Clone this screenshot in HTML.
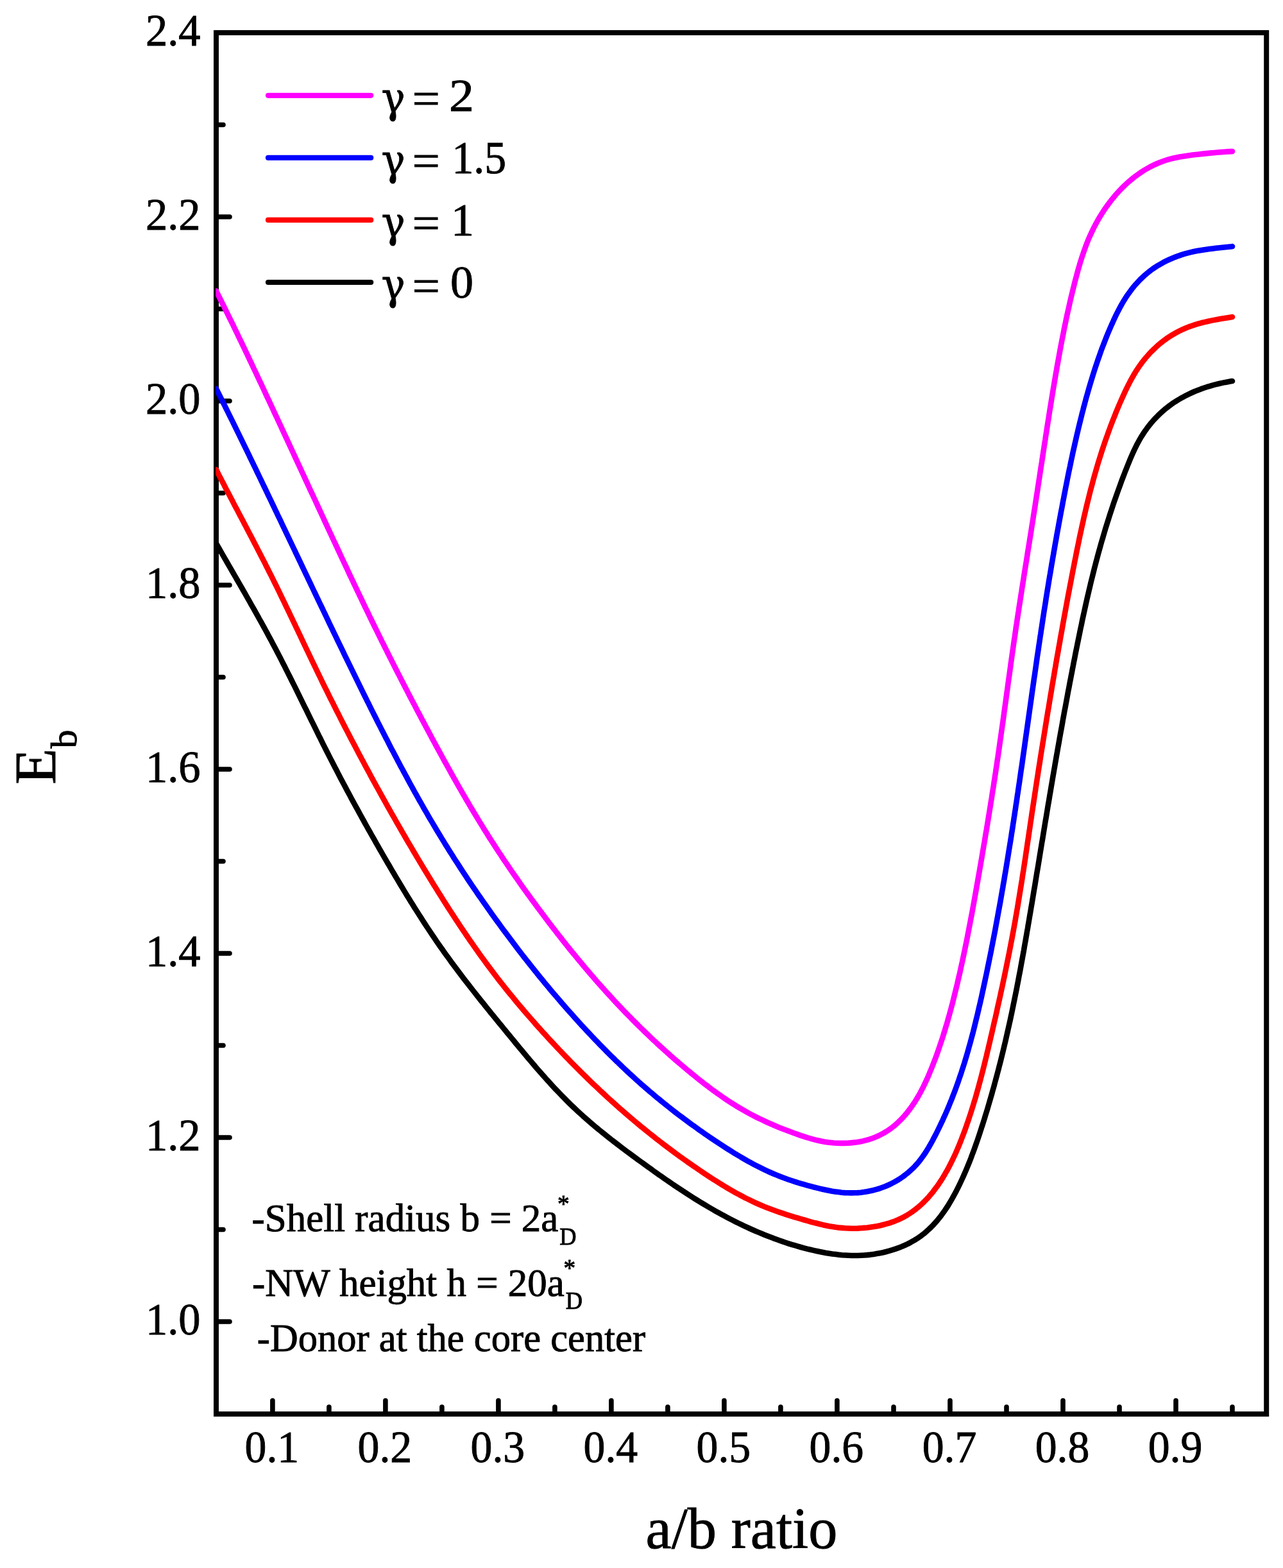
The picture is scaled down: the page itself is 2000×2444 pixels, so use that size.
<!DOCTYPE html>
<html lang="en"><head><meta charset="utf-8"><title>E_b versus a/b ratio</title>
<style>
html,body{margin:0;padding:0;background:#fff;}
body{width:2000px;height:2444px;overflow:hidden;}
svg{display:block;}
text{font-family:"Liberation Serif","DejaVu Serif",serif;fill:#000;}
.tk{font-size:69.5px;}
.lg{font-size:72px;}
.an{font-size:62px;}
.gm{font-family:"DejaVu Serif","Liberation Serif",serif;font-size:72px;}
.ax{font-size:92px;}
</style></head><body>
<svg width="2000" height="2444" viewBox="0 0 2000 2444">
<rect x="0" y="0" width="2000" height="2444" fill="#ffffff"/>

<g stroke="#000" stroke-width="7.6" stroke-linecap="round" fill="none">
<line x1="424.9" y1="2204.0" x2="424.9" y2="2183.0"/>
<line x1="600.9" y1="2204.0" x2="600.9" y2="2183.0"/>
<line x1="776.9" y1="2204.0" x2="776.9" y2="2183.0"/>
<line x1="952.9" y1="2204.0" x2="952.9" y2="2183.0"/>
<line x1="1128.9" y1="2204.0" x2="1128.9" y2="2183.0"/>
<line x1="1304.9" y1="2204.0" x2="1304.9" y2="2183.0"/>
<line x1="1481.0" y1="2204.0" x2="1481.0" y2="2183.0"/>
<line x1="1657.0" y1="2204.0" x2="1657.0" y2="2183.0"/>
<line x1="1833.0" y1="2204.0" x2="1833.0" y2="2183.0"/>
<line x1="512.9" y1="2204.0" x2="512.9" y2="2193.0"/>
<line x1="688.9" y1="2204.0" x2="688.9" y2="2193.0"/>
<line x1="864.9" y1="2204.0" x2="864.9" y2="2193.0"/>
<line x1="1040.9" y1="2204.0" x2="1040.9" y2="2193.0"/>
<line x1="1216.9" y1="2204.0" x2="1216.9" y2="2193.0"/>
<line x1="1393.0" y1="2204.0" x2="1393.0" y2="2193.0"/>
<line x1="1569.0" y1="2204.0" x2="1569.0" y2="2193.0"/>
<line x1="1745.0" y1="2204.0" x2="1745.0" y2="2193.0"/>
<line x1="1921.0" y1="2204.0" x2="1921.0" y2="2193.0"/>
<line x1="337.0" y1="2060.0" x2="358.0" y2="2060.0"/>
<line x1="337.0" y1="1916.5" x2="348.0" y2="1916.5"/>
<line x1="337.0" y1="1773.0" x2="358.0" y2="1773.0"/>
<line x1="337.0" y1="1629.5" x2="348.0" y2="1629.5"/>
<line x1="337.0" y1="1486.0" x2="358.0" y2="1486.0"/>
<line x1="337.0" y1="1342.5" x2="348.0" y2="1342.5"/>
<line x1="337.0" y1="1199.0" x2="358.0" y2="1199.0"/>
<line x1="337.0" y1="1055.5" x2="348.0" y2="1055.5"/>
<line x1="337.0" y1="912.0" x2="358.0" y2="912.0"/>
<line x1="337.0" y1="768.5" x2="348.0" y2="768.5"/>
<line x1="337.0" y1="625.0" x2="358.0" y2="625.0"/>
<line x1="337.0" y1="481.5" x2="348.0" y2="481.5"/>
<line x1="337.0" y1="338.0" x2="358.0" y2="338.0"/>
<line x1="337.0" y1="194.5" x2="348.0" y2="194.5"/>
</g>
<rect x="337.0" y="51.0" width="1637.2" height="2153.0" fill="none" stroke="#000" stroke-width="8.0" stroke-linejoin="miter"/>
<clipPath id="plotclip"><rect x="336.2" y="40" width="1640" height="2170"/></clipPath>
<g fill="none" stroke-width="8.6" stroke-linecap="round" stroke-linejoin="round" clip-path="url(#plotclip)">
<path stroke="#000000" d="M337.0,847.0 L339.5,851.4 L342.0,855.7 L344.5,860.1 L347.0,864.5 L349.5,868.8 L352.0,873.2 L354.5,877.5 L357.0,881.8 L359.5,886.2 L362.0,890.5 L364.5,894.9 L367.0,899.2 L369.5,903.5 L372.0,907.9 L374.5,912.2 L377.0,916.5 L379.5,920.9 L382.0,925.2 L384.4,929.5 L386.9,933.9 L389.4,938.2 L391.8,942.6 L394.3,946.9 L396.7,951.2 L399.2,955.6 L401.6,959.9 L404.0,964.3 L406.5,968.6 L408.9,973.0 L411.3,977.4 L413.7,981.8 L416.1,986.1 L418.4,990.5 L420.8,994.9 L423.2,999.3 L425.5,1003.7 L427.8,1008.1 L430.2,1012.5 L432.5,1016.9 L434.8,1021.4 L437.1,1025.8 L439.3,1030.2 L441.6,1034.7 L443.9,1039.1 L446.1,1043.6 L448.4,1048.1 L450.6,1052.5 L452.9,1057.0 L455.1,1061.5 L457.3,1065.9 L459.6,1070.4 L461.8,1074.9 L464.0,1079.4 L466.2,1083.9 L468.4,1088.3 L470.6,1092.8 L472.8,1097.3 L475.0,1101.8 L477.3,1106.3 L479.5,1110.8 L481.7,1115.3 L483.9,1119.8 L486.1,1124.3 L488.3,1128.7 L490.5,1133.2 L492.7,1137.7 L494.9,1142.2 L497.1,1146.7 L499.4,1151.1 L501.6,1155.6 L503.8,1160.1 L506.1,1164.6 L508.3,1169.0 L510.6,1173.5 L512.8,1177.9 L515.1,1182.4 L517.4,1186.8 L519.7,1191.3 L522.0,1195.7 L524.3,1200.1 L526.6,1204.6 L528.9,1209.0 L531.2,1213.4 L533.5,1217.8 L535.9,1222.2 L538.2,1226.6 L540.5,1231.0 L542.9,1235.4 L545.3,1239.8 L547.6,1244.2 L550.0,1248.6 L552.4,1253.0 L554.8,1257.4 L557.2,1261.7 L559.6,1266.1 L562.0,1270.5 L564.4,1274.9 L566.8,1279.2 L569.2,1283.6 L571.7,1288.0 L574.1,1292.3 L576.6,1296.7 L579.0,1301.0 L581.5,1305.4 L584.0,1309.7 L586.4,1314.1 L588.9,1318.4 L591.4,1322.8 L593.9,1327.1 L596.4,1331.5 L598.9,1335.8 L601.4,1340.1 L603.9,1344.5 L606.5,1348.8 L609.0,1353.1 L611.5,1357.5 L614.1,1361.8 L616.6,1366.1 L619.2,1370.4 L621.8,1374.7 L624.3,1379.0 L626.9,1383.3 L629.5,1387.6 L632.1,1391.9 L634.7,1396.2 L637.4,1400.5 L640.0,1404.8 L642.7,1409.0 L645.3,1413.3 L648.0,1417.5 L650.7,1421.8 L653.4,1426.0 L656.1,1430.2 L658.8,1434.5 L661.5,1438.7 L664.3,1442.9 L667.0,1447.0 L669.8,1451.2 L672.6,1455.4 L675.4,1459.5 L678.2,1463.7 L681.0,1467.8 L683.9,1471.9 L686.7,1476.0 L689.6,1480.1 L692.5,1484.2 L695.4,1488.2 L698.4,1492.3 L701.3,1496.3 L704.2,1500.4 L707.2,1504.4 L710.2,1508.4 L713.2,1512.4 L716.2,1516.4 L719.2,1520.3 L722.2,1524.3 L725.3,1528.3 L728.3,1532.2 L731.4,1536.2 L734.5,1540.1 L737.5,1544.0 L740.6,1547.9 L743.7,1551.9 L746.8,1555.8 L749.9,1559.7 L753.1,1563.6 L756.2,1567.5 L759.3,1571.4 L762.5,1575.3 L765.6,1579.2 L768.8,1583.0 L771.9,1586.9 L775.1,1590.8 L778.3,1594.7 L781.5,1598.6 L784.6,1602.4 L787.8,1606.3 L791.0,1610.2 L794.2,1614.1 L797.4,1617.9 L800.6,1621.8 L803.7,1625.7 L806.9,1629.6 L810.1,1633.4 L813.4,1637.3 L816.6,1641.2 L819.8,1645.0 L823.0,1648.9 L826.3,1652.7 L829.5,1656.5 L832.8,1660.4 L836.0,1664.2 L839.3,1668.0 L842.6,1671.7 L845.9,1675.5 L849.3,1679.2 L852.6,1683.0 L856.0,1686.7 L859.3,1690.4 L862.7,1694.1 L866.1,1697.7 L869.6,1701.3 L873.0,1704.9 L876.5,1708.5 L880.0,1712.1 L883.5,1715.6 L887.0,1719.1 L890.6,1722.6 L894.2,1726.0 L897.8,1729.4 L901.4,1732.8 L905.1,1736.1 L908.7,1739.4 L912.5,1742.7 L916.2,1746.0 L919.9,1749.2 L923.7,1752.5 L927.5,1755.7 L931.3,1758.8 L935.1,1762.0 L939.0,1765.1 L942.8,1768.2 L946.7,1771.3 L950.6,1774.4 L954.5,1777.5 L958.5,1780.5 L962.4,1783.5 L966.4,1786.6 L970.3,1789.6 L974.3,1792.6 L978.3,1795.6 L982.3,1798.5 L986.3,1801.5 L990.4,1804.5 L994.4,1807.4 L998.5,1810.4 L1002.5,1813.3 L1006.6,1816.3 L1010.7,1819.2 L1014.7,1822.1 L1018.8,1825.1 L1022.9,1828.0 L1027.0,1830.9 L1031.2,1833.8 L1035.3,1836.7 L1039.4,1839.5 L1043.6,1842.4 L1047.7,1845.2 L1051.9,1848.1 L1056.1,1850.9 L1060.3,1853.7 L1064.5,1856.4 L1068.7,1859.2 L1072.9,1861.9 L1077.2,1864.6 L1081.4,1867.3 L1085.7,1870.0 L1089.9,1872.6 L1094.2,1875.2 L1098.5,1877.8 L1102.8,1880.4 L1107.1,1882.9 L1111.4,1885.4 L1115.8,1887.9 L1120.1,1890.3 L1124.5,1892.7 L1128.9,1895.1 L1133.3,1897.5 L1137.7,1899.8 L1142.1,1902.0 L1146.6,1904.3 L1151.0,1906.5 L1155.5,1908.7 L1160.0,1910.8 L1164.5,1912.9 L1169.0,1915.0 L1173.5,1917.0 L1178.0,1919.0 L1182.6,1920.9 L1187.2,1922.8 L1191.8,1924.7 L1196.4,1926.5 L1201.1,1928.3 L1205.7,1930.1 L1210.4,1931.8 L1215.1,1933.5 L1219.8,1935.1 L1224.5,1936.7 L1229.3,1938.3 L1234.1,1939.8 L1238.9,1941.2 L1243.7,1942.6 L1248.5,1944.0 L1253.4,1945.3 L1258.2,1946.6 L1263.1,1947.8 L1268.0,1948.9 L1272.9,1950.0 L1277.8,1951.0 L1282.8,1952.0 L1287.7,1952.9 L1292.7,1953.7 L1297.6,1954.5 L1302.6,1955.1 L1307.6,1955.7 L1312.5,1956.2 L1317.5,1956.5 L1322.4,1956.8 L1327.4,1957.0 L1332.3,1957.0 L1337.2,1957.0 L1342.1,1956.8 L1347.1,1956.5 L1352.0,1956.1 L1356.9,1955.6 L1361.8,1954.9 L1366.7,1954.1 L1371.6,1953.2 L1376.6,1952.2 L1381.5,1951.0 L1386.4,1949.7 L1391.3,1948.2 L1396.1,1946.6 L1400.9,1944.9 L1405.7,1943.0 L1410.4,1941.0 L1415.0,1938.9 L1419.4,1936.6 L1423.8,1934.1 L1428.1,1931.5 L1432.2,1928.8 L1436.3,1925.9 L1440.2,1922.9 L1443.9,1919.7 L1447.6,1916.4 L1451.2,1913.0 L1454.6,1909.5 L1457.9,1905.9 L1461.2,1902.1 L1464.3,1898.3 L1467.4,1894.3 L1470.3,1890.3 L1473.2,1886.2 L1476.0,1882.0 L1478.7,1877.8 L1481.3,1873.4 L1483.8,1869.1 L1486.3,1864.6 L1488.7,1860.2 L1491.1,1855.7 L1493.4,1851.1 L1495.6,1846.6 L1497.8,1842.0 L1499.9,1837.5 L1502.0,1832.9 L1504.0,1828.3 L1506.0,1823.7 L1507.9,1819.1 L1509.8,1814.5 L1511.7,1809.8 L1513.5,1805.2 L1515.2,1800.5 L1517.0,1795.9 L1518.7,1791.2 L1520.4,1786.5 L1522.0,1781.8 L1523.7,1777.1 L1525.3,1772.4 L1526.9,1767.7 L1528.4,1763.0 L1529.9,1758.2 L1531.5,1753.5 L1533.0,1748.7 L1534.5,1744.0 L1535.9,1739.2 L1537.4,1734.5 L1538.9,1729.7 L1540.3,1724.9 L1541.7,1720.1 L1543.1,1715.3 L1544.5,1710.5 L1545.9,1705.7 L1547.2,1700.9 L1548.6,1696.1 L1549.9,1691.3 L1551.2,1686.5 L1552.5,1681.6 L1553.8,1676.8 L1555.1,1672.0 L1556.4,1667.1 L1557.6,1662.3 L1558.9,1657.4 L1560.1,1652.6 L1561.3,1647.7 L1562.5,1642.9 L1563.7,1638.0 L1564.9,1633.1 L1566.0,1628.3 L1567.2,1623.4 L1568.3,1618.5 L1569.4,1613.6 L1570.5,1608.7 L1571.6,1603.9 L1572.7,1599.0 L1573.8,1594.1 L1574.9,1589.2 L1575.9,1584.3 L1577.0,1579.4 L1578.0,1574.5 L1579.0,1569.6 L1580.0,1564.7 L1581.0,1559.8 L1582.0,1554.9 L1583.0,1550.0 L1584.0,1545.1 L1585.0,1540.2 L1585.9,1535.3 L1586.9,1530.3 L1587.8,1525.4 L1588.7,1520.5 L1589.7,1515.6 L1590.6,1510.7 L1591.5,1505.8 L1592.4,1500.8 L1593.3,1495.9 L1594.2,1491.0 L1595.1,1486.1 L1596.0,1481.2 L1596.8,1476.2 L1597.7,1471.3 L1598.6,1466.4 L1599.4,1461.5 L1600.3,1456.5 L1601.1,1451.6 L1602.0,1446.7 L1602.8,1441.7 L1603.7,1436.8 L1604.5,1431.9 L1605.3,1427.0 L1606.2,1422.0 L1607.0,1417.1 L1607.8,1412.2 L1608.7,1407.2 L1609.5,1402.3 L1610.3,1397.4 L1611.1,1392.5 L1611.9,1387.5 L1612.8,1382.6 L1613.6,1377.7 L1614.4,1372.8 L1615.2,1367.8 L1616.0,1362.9 L1616.8,1358.0 L1617.7,1353.0 L1618.5,1348.1 L1619.3,1343.2 L1620.1,1338.3 L1620.9,1333.3 L1621.7,1328.4 L1622.5,1323.5 L1623.3,1318.6 L1624.1,1313.6 L1625.0,1308.7 L1625.8,1303.8 L1626.6,1298.8 L1627.4,1293.9 L1628.2,1289.0 L1629.0,1284.1 L1629.8,1279.1 L1630.7,1274.2 L1631.5,1269.3 L1632.3,1264.4 L1633.1,1259.4 L1633.9,1254.5 L1634.8,1249.6 L1635.6,1244.7 L1636.4,1239.7 L1637.3,1234.8 L1638.1,1229.9 L1638.9,1225.0 L1639.8,1220.0 L1640.6,1215.1 L1641.4,1210.2 L1642.3,1205.3 L1643.1,1200.4 L1644.0,1195.4 L1644.8,1190.5 L1645.7,1185.6 L1646.5,1180.7 L1647.4,1175.7 L1648.3,1170.8 L1649.1,1165.9 L1650.0,1161.0 L1650.9,1156.1 L1651.7,1151.1 L1652.6,1146.2 L1653.5,1141.3 L1654.4,1136.4 L1655.3,1131.5 L1656.2,1126.5 L1657.0,1121.6 L1657.9,1116.7 L1658.8,1111.8 L1659.7,1106.8 L1660.7,1101.9 L1661.6,1097.0 L1662.5,1092.1 L1663.4,1087.2 L1664.3,1082.2 L1665.2,1077.3 L1666.2,1072.4 L1667.1,1067.5 L1668.0,1062.6 L1669.0,1057.6 L1669.9,1052.7 L1670.9,1047.8 L1671.8,1042.9 L1672.8,1038.0 L1673.7,1033.0 L1674.7,1028.1 L1675.7,1023.2 L1676.6,1018.3 L1677.6,1013.4 L1678.6,1008.5 L1679.6,1003.5 L1680.6,998.6 L1681.6,993.7 L1682.6,988.8 L1683.6,983.9 L1684.6,979.0 L1685.7,974.1 L1686.7,969.2 L1687.7,964.2 L1688.8,959.3 L1689.9,954.4 L1690.9,949.6 L1692.0,944.7 L1693.1,939.8 L1694.2,934.9 L1695.3,930.0 L1696.5,925.1 L1697.6,920.2 L1698.8,915.4 L1699.9,910.5 L1701.1,905.6 L1702.3,900.8 L1703.5,895.9 L1704.7,891.1 L1705.9,886.2 L1707.2,881.4 L1708.4,876.6 L1709.7,871.8 L1711.0,866.9 L1712.3,862.1 L1713.6,857.3 L1715.0,852.5 L1716.3,847.7 L1717.7,842.9 L1719.1,838.2 L1720.5,833.4 L1721.9,828.6 L1723.3,823.8 L1724.8,819.1 L1726.3,814.3 L1727.8,809.6 L1729.3,804.8 L1730.8,800.1 L1732.4,795.4 L1733.9,790.7 L1735.5,785.9 L1737.1,781.2 L1738.8,776.5 L1740.4,771.8 L1742.1,767.1 L1743.8,762.4 L1745.5,757.7 L1747.2,753.0 L1748.9,748.3 L1750.7,743.6 L1752.5,739.0 L1754.3,734.3 L1756.2,729.6 L1758.0,725.0 L1759.9,720.3 L1761.8,715.7 L1763.8,711.0 L1765.8,706.5 L1767.9,701.9 L1770.1,697.4 L1772.3,692.9 L1774.7,688.5 L1777.1,684.1 L1779.7,679.8 L1782.4,675.6 L1785.2,671.4 L1788.1,667.4 L1791.2,663.4 L1794.3,659.5 L1797.6,655.7 L1801.0,652.0 L1804.5,648.4 L1808.1,644.9 L1811.8,641.5 L1815.6,638.2 L1819.5,635.1 L1823.5,632.0 L1827.6,629.1 L1831.7,626.3 L1836.0,623.6 L1840.3,621.1 L1844.7,618.7 L1849.1,616.3 L1853.6,614.1 L1858.1,612.0 L1862.6,610.0 L1867.2,608.2 L1871.9,606.4 L1876.5,604.8 L1881.2,603.2 L1885.9,601.8 L1890.7,600.4 L1895.5,599.2 L1900.3,598.0 L1905.2,596.9 L1910.1,595.9 L1915.1,595.0 L1920.1,594.1 L1921.0,594.0"/>
<path stroke="#ff0000" d="M337.0,732.0 L339.3,736.4 L341.5,740.8 L343.8,745.3 L346.1,749.7 L348.4,754.1 L350.6,758.5 L352.9,763.0 L355.3,767.4 L357.6,771.8 L359.9,776.2 L362.2,780.6 L364.5,785.1 L366.8,789.5 L369.2,793.9 L371.5,798.4 L373.8,802.8 L376.2,807.2 L378.5,811.6 L380.8,816.1 L383.2,820.5 L385.5,824.9 L387.8,829.4 L390.1,833.8 L392.5,838.3 L394.8,842.7 L397.1,847.2 L399.4,851.6 L401.7,856.1 L404.0,860.5 L406.3,865.0 L408.6,869.4 L410.9,873.9 L413.2,878.3 L415.4,882.8 L417.7,887.3 L419.9,891.8 L422.2,896.2 L424.4,900.7 L426.6,905.2 L428.9,909.7 L431.1,914.2 L433.3,918.7 L435.5,923.2 L437.6,927.6 L439.8,932.1 L442.0,936.6 L444.2,941.1 L446.3,945.7 L448.5,950.2 L450.7,954.7 L452.8,959.2 L455.0,963.7 L457.1,968.2 L459.3,972.7 L461.4,977.2 L463.6,981.7 L465.7,986.2 L467.9,990.7 L470.0,995.3 L472.1,999.8 L474.3,1004.3 L476.4,1008.8 L478.6,1013.3 L480.7,1017.8 L482.9,1022.3 L485.0,1026.8 L487.2,1031.3 L489.4,1035.8 L491.5,1040.3 L493.7,1044.8 L495.9,1049.3 L498.1,1053.8 L500.2,1058.3 L502.4,1062.8 L504.6,1067.3 L506.8,1071.8 L509.1,1076.3 L511.3,1080.8 L513.5,1085.3 L515.7,1089.8 L518.0,1094.2 L520.2,1098.7 L522.5,1103.2 L524.7,1107.7 L527.0,1112.1 L529.3,1116.6 L531.5,1121.1 L533.8,1125.5 L536.1,1130.0 L538.4,1134.4 L540.7,1138.9 L543.0,1143.3 L545.3,1147.8 L547.6,1152.2 L550.0,1156.7 L552.3,1161.1 L554.6,1165.5 L557.0,1170.0 L559.3,1174.4 L561.6,1178.8 L564.0,1183.2 L566.4,1187.6 L568.7,1192.1 L571.1,1196.5 L573.5,1200.9 L575.9,1205.3 L578.2,1209.7 L580.6,1214.1 L583.0,1218.5 L585.4,1222.8 L587.8,1227.2 L590.3,1231.6 L592.7,1236.0 L595.1,1240.4 L597.5,1244.7 L600.0,1249.1 L602.4,1253.5 L604.8,1257.8 L607.3,1262.2 L609.7,1266.5 L612.2,1270.9 L614.7,1275.2 L617.1,1279.5 L619.6,1283.9 L622.1,1288.2 L624.6,1292.5 L627.1,1296.9 L629.6,1301.2 L632.1,1305.5 L634.6,1309.8 L637.1,1314.1 L639.7,1318.4 L642.2,1322.7 L644.7,1327.0 L647.3,1331.3 L649.8,1335.6 L652.4,1339.9 L655.0,1344.2 L657.5,1348.4 L660.1,1352.7 L662.7,1357.0 L665.3,1361.3 L667.9,1365.5 L670.5,1369.8 L673.1,1374.0 L675.7,1378.3 L678.4,1382.5 L681.0,1386.8 L683.6,1391.0 L686.3,1395.2 L689.0,1399.5 L691.6,1403.7 L694.3,1407.9 L697.0,1412.1 L699.7,1416.3 L702.4,1420.5 L705.1,1424.7 L707.9,1428.9 L710.6,1433.1 L713.3,1437.2 L716.1,1441.4 L718.9,1445.6 L721.7,1449.7 L724.5,1453.8 L727.3,1458.0 L730.1,1462.1 L732.9,1466.2 L735.8,1470.3 L738.6,1474.4 L741.5,1478.5 L744.4,1482.6 L747.3,1486.7 L750.2,1490.7 L753.2,1494.8 L756.1,1498.8 L759.1,1502.8 L762.1,1506.9 L765.1,1510.9 L768.1,1514.9 L771.1,1518.8 L774.2,1522.8 L777.2,1526.8 L780.3,1530.7 L783.4,1534.6 L786.5,1538.6 L789.6,1542.5 L792.8,1546.4 L795.9,1550.3 L799.1,1554.1 L802.3,1558.0 L805.5,1561.9 L808.7,1565.7 L811.9,1569.5 L815.2,1573.4 L818.4,1577.2 L821.7,1581.0 L825.0,1584.8 L828.3,1588.5 L831.6,1592.3 L834.9,1596.1 L838.2,1599.8 L841.6,1603.5 L844.9,1607.3 L848.3,1611.0 L851.7,1614.7 L855.0,1618.4 L858.4,1622.0 L861.9,1625.7 L865.3,1629.4 L868.7,1633.0 L872.1,1636.6 L875.6,1640.3 L879.1,1643.9 L882.5,1647.5 L886.0,1651.1 L889.5,1654.7 L893.0,1658.2 L896.5,1661.8 L900.0,1665.3 L903.6,1668.9 L907.1,1672.4 L910.7,1675.9 L914.3,1679.4 L917.8,1682.9 L921.4,1686.3 L925.0,1689.8 L928.6,1693.2 L932.3,1696.7 L935.9,1700.1 L939.6,1703.5 L943.2,1706.9 L946.9,1710.3 L950.6,1713.6 L954.3,1717.0 L958.0,1720.3 L961.7,1723.7 L965.4,1727.0 L969.2,1730.3 L973.0,1733.5 L976.7,1736.8 L980.5,1740.1 L984.3,1743.3 L988.1,1746.5 L992.0,1749.7 L995.8,1752.9 L999.6,1756.1 L1003.5,1759.2 L1007.4,1762.4 L1011.3,1765.5 L1015.2,1768.6 L1019.1,1771.7 L1023.0,1774.8 L1027.0,1777.9 L1030.9,1780.9 L1034.9,1784.0 L1038.9,1787.0 L1042.9,1790.0 L1046.9,1793.0 L1050.9,1796.0 L1054.9,1798.9 L1058.9,1801.9 L1063.0,1804.8 L1067.1,1807.7 L1071.1,1810.6 L1075.2,1813.4 L1079.3,1816.3 L1083.5,1819.1 L1087.6,1822.0 L1091.7,1824.8 L1095.9,1827.6 L1100.0,1830.3 L1104.2,1833.1 L1108.4,1835.8 L1112.6,1838.6 L1116.8,1841.2 L1121.1,1843.9 L1125.3,1846.5 L1129.6,1849.1 L1133.9,1851.7 L1138.2,1854.2 L1142.6,1856.7 L1146.9,1859.2 L1151.3,1861.6 L1155.7,1863.9 L1160.1,1866.3 L1164.6,1868.5 L1169.1,1870.7 L1173.6,1872.9 L1178.1,1875.0 L1182.7,1877.0 L1187.3,1879.0 L1191.9,1880.9 L1196.6,1882.7 L1201.2,1884.5 L1206.0,1886.3 L1210.7,1888.0 L1215.4,1889.6 L1220.2,1891.2 L1225.0,1892.8 L1229.8,1894.3 L1234.6,1895.8 L1239.4,1897.3 L1244.2,1898.7 L1249.0,1900.1 L1253.8,1901.5 L1258.7,1902.9 L1263.5,1904.3 L1268.3,1905.6 L1273.2,1906.8 L1278.0,1908.0 L1282.8,1909.2 L1287.7,1910.2 L1292.6,1911.2 L1297.5,1912.0 L1302.4,1912.8 L1307.3,1913.4 L1312.2,1913.9 L1317.1,1914.3 L1322.1,1914.5 L1327.1,1914.7 L1332.0,1914.7 L1337.0,1914.6 L1342.0,1914.3 L1347.0,1913.9 L1351.9,1913.5 L1356.9,1912.8 L1361.9,1912.1 L1366.9,1911.2 L1371.8,1910.2 L1376.7,1909.0 L1381.6,1907.7 L1386.4,1906.3 L1391.2,1904.7 L1395.9,1902.9 L1400.5,1901.0 L1405.0,1898.9 L1409.5,1896.6 L1413.8,1894.2 L1418.0,1891.5 L1422.1,1888.7 L1426.1,1885.8 L1430.0,1882.7 L1433.8,1879.4 L1437.5,1876.1 L1441.1,1872.6 L1444.6,1869.0 L1448.0,1865.3 L1451.2,1861.5 L1454.4,1857.7 L1457.4,1853.7 L1460.4,1849.7 L1463.2,1845.7 L1466.0,1841.5 L1468.7,1837.3 L1471.3,1833.1 L1473.8,1828.7 L1476.3,1824.4 L1478.7,1820.0 L1481.0,1815.5 L1483.2,1811.1 L1485.4,1806.6 L1487.6,1802.0 L1489.7,1797.5 L1491.7,1792.9 L1493.7,1788.3 L1495.6,1783.6 L1497.5,1779.0 L1499.3,1774.3 L1501.1,1769.6 L1502.9,1764.9 L1504.6,1760.2 L1506.3,1755.5 L1507.9,1750.7 L1509.6,1746.0 L1511.1,1741.3 L1512.7,1736.5 L1514.2,1731.8 L1515.7,1727.0 L1517.2,1722.2 L1518.6,1717.4 L1520.1,1712.7 L1521.5,1707.9 L1522.8,1703.1 L1524.2,1698.3 L1525.5,1693.5 L1526.8,1688.7 L1528.1,1683.8 L1529.4,1679.0 L1530.6,1674.2 L1531.9,1669.4 L1533.1,1664.5 L1534.3,1659.7 L1535.5,1654.9 L1536.7,1650.0 L1537.9,1645.2 L1539.0,1640.3 L1540.2,1635.5 L1541.3,1630.6 L1542.5,1625.7 L1543.6,1620.9 L1544.7,1616.0 L1545.9,1611.1 L1547.0,1606.3 L1548.1,1601.4 L1549.2,1596.5 L1550.3,1591.6 L1551.5,1586.8 L1552.6,1581.9 L1553.7,1577.0 L1554.7,1572.1 L1555.8,1567.2 L1556.9,1562.4 L1558.0,1557.5 L1559.1,1552.6 L1560.1,1547.7 L1561.2,1542.8 L1562.3,1537.9 L1563.3,1533.0 L1564.3,1528.1 L1565.4,1523.2 L1566.4,1518.3 L1567.4,1513.4 L1568.4,1508.5 L1569.4,1503.6 L1570.4,1498.7 L1571.4,1493.8 L1572.4,1488.9 L1573.4,1484.0 L1574.3,1479.1 L1575.3,1474.2 L1576.2,1469.3 L1577.2,1464.3 L1578.1,1459.4 L1579.0,1454.5 L1579.9,1449.6 L1580.8,1444.7 L1581.7,1439.8 L1582.6,1434.9 L1583.4,1429.9 L1584.3,1425.0 L1585.1,1420.1 L1586.0,1415.2 L1586.8,1410.3 L1587.6,1405.3 L1588.4,1400.4 L1589.2,1395.5 L1590.0,1390.6 L1590.8,1385.6 L1591.6,1380.7 L1592.4,1375.8 L1593.2,1370.9 L1593.9,1365.9 L1594.7,1361.0 L1595.5,1356.1 L1596.2,1351.1 L1597.0,1346.2 L1597.7,1341.3 L1598.5,1336.3 L1599.2,1331.4 L1599.9,1326.5 L1600.7,1321.5 L1601.4,1316.6 L1602.1,1311.6 L1602.9,1306.7 L1603.6,1301.8 L1604.3,1296.8 L1605.1,1291.9 L1605.8,1286.9 L1606.5,1282.0 L1607.3,1277.0 L1608.0,1272.1 L1608.7,1267.1 L1609.5,1262.2 L1610.2,1257.2 L1611.0,1252.3 L1611.7,1247.3 L1612.5,1242.4 L1613.2,1237.4 L1614.0,1232.4 L1614.7,1227.5 L1615.5,1222.5 L1616.2,1217.6 L1617.0,1212.6 L1617.8,1207.6 L1618.5,1202.7 L1619.3,1197.7 L1620.1,1192.8 L1620.9,1187.8 L1621.6,1182.8 L1622.4,1177.9 L1623.2,1172.9 L1624.0,1167.9 L1624.8,1163.0 L1625.6,1158.0 L1626.4,1153.1 L1627.2,1148.1 L1628.0,1143.1 L1628.8,1138.2 L1629.6,1133.2 L1630.4,1128.3 L1631.2,1123.3 L1632.0,1118.3 L1632.8,1113.4 L1633.6,1108.4 L1634.5,1103.5 L1635.3,1098.5 L1636.1,1093.6 L1636.9,1088.6 L1637.7,1083.7 L1638.6,1078.7 L1639.4,1073.8 L1640.2,1068.8 L1641.1,1063.9 L1641.9,1058.9 L1642.8,1054.0 L1643.6,1049.0 L1644.4,1044.1 L1645.3,1039.2 L1646.1,1034.2 L1647.0,1029.3 L1647.8,1024.4 L1648.7,1019.4 L1649.6,1014.5 L1650.4,1009.6 L1651.3,1004.7 L1652.2,999.7 L1653.0,994.8 L1653.9,989.9 L1654.8,985.0 L1655.7,980.1 L1656.5,975.2 L1657.4,970.2 L1658.3,965.3 L1659.2,960.4 L1660.1,955.5 L1661.0,950.6 L1661.9,945.7 L1662.8,940.8 L1663.7,935.9 L1664.6,931.0 L1665.5,926.1 L1666.5,921.2 L1667.4,916.3 L1668.3,911.4 L1669.3,906.5 L1670.2,901.6 L1671.1,896.8 L1672.1,891.9 L1673.0,887.0 L1674.0,882.1 L1674.9,877.2 L1675.9,872.4 L1676.9,867.5 L1677.8,862.6 L1678.8,857.7 L1679.8,852.9 L1680.8,848.0 L1681.8,843.1 L1682.8,838.2 L1683.8,833.4 L1684.9,828.5 L1685.9,823.7 L1687.0,818.8 L1688.1,813.9 L1689.1,809.1 L1690.2,804.2 L1691.4,799.4 L1692.5,794.5 L1693.6,789.7 L1694.8,784.9 L1696.0,780.0 L1697.2,775.2 L1698.4,770.3 L1699.6,765.5 L1700.9,760.7 L1702.2,755.9 L1703.5,751.0 L1704.8,746.2 L1706.1,741.4 L1707.5,736.6 L1708.9,731.7 L1710.3,726.9 L1711.7,722.1 L1713.2,717.3 L1714.7,712.5 L1716.2,707.7 L1717.7,702.9 L1719.3,698.1 L1720.9,693.4 L1722.5,688.6 L1724.2,683.8 L1725.9,679.1 L1727.6,674.3 L1729.3,669.6 L1731.0,664.9 L1732.8,660.2 L1734.6,655.5 L1736.5,650.8 L1738.4,646.1 L1740.2,641.4 L1742.2,636.8 L1744.1,632.2 L1746.1,627.6 L1748.1,623.0 L1750.2,618.4 L1752.2,613.9 L1754.3,609.4 L1756.5,604.9 L1758.7,600.4 L1761.0,596.0 L1763.3,591.6 L1765.7,587.3 L1768.2,583.0 L1770.8,578.7 L1773.5,574.6 L1776.3,570.4 L1779.2,566.4 L1782.3,562.4 L1785.4,558.5 L1788.7,554.7 L1792.1,550.9 L1795.5,547.3 L1799.1,543.8 L1802.8,540.4 L1806.5,537.0 L1810.4,533.9 L1814.3,530.8 L1818.3,527.9 L1822.4,525.1 L1826.6,522.5 L1830.9,520.0 L1835.2,517.6 L1839.6,515.3 L1844.1,513.2 L1848.7,511.3 L1853.3,509.4 L1858.1,507.7 L1862.8,506.1 L1867.7,504.7 L1872.6,503.3 L1877.5,502.1 L1882.5,501.0 L1887.4,499.9 L1892.4,498.9 L1897.4,498.0 L1902.3,497.1 L1907.2,496.3 L1912.1,495.5 L1916.8,494.7 L1921.0,494.0"/>
<path stroke="#0000ff" d="M337.0,605.8 L339.2,610.2 L341.5,614.7 L343.7,619.1 L345.9,623.6 L348.1,628.0 L350.4,632.5 L352.6,637.0 L354.8,641.4 L357.0,645.9 L359.2,650.4 L361.5,654.9 L363.7,659.3 L365.9,663.8 L368.1,668.3 L370.3,672.8 L372.5,677.3 L374.7,681.8 L376.9,686.3 L379.1,690.8 L381.3,695.3 L383.5,699.8 L385.7,704.3 L387.9,708.8 L390.0,713.4 L392.2,717.9 L394.4,722.4 L396.6,726.9 L398.8,731.4 L400.9,735.9 L403.1,740.4 L405.3,745.0 L407.5,749.5 L409.6,754.0 L411.8,758.5 L414.0,763.0 L416.2,767.6 L418.3,772.1 L420.5,776.6 L422.7,781.1 L424.8,785.6 L427.0,790.2 L429.1,794.7 L431.3,799.2 L433.4,803.7 L435.6,808.2 L437.8,812.7 L439.9,817.3 L442.1,821.8 L444.2,826.3 L446.4,830.8 L448.5,835.3 L450.7,839.8 L452.8,844.3 L455.0,848.8 L457.1,853.3 L459.3,857.8 L461.4,862.4 L463.6,866.9 L465.7,871.4 L467.9,875.9 L470.0,880.4 L472.1,884.9 L474.3,889.4 L476.4,893.9 L478.6,898.4 L480.7,902.9 L482.9,907.4 L485.0,911.9 L487.2,916.5 L489.3,921.0 L491.5,925.5 L493.6,930.0 L495.8,934.5 L497.9,939.0 L500.1,943.5 L502.3,948.0 L504.4,952.5 L506.6,957.0 L508.7,961.5 L510.9,966.0 L513.0,970.6 L515.2,975.1 L517.4,979.6 L519.5,984.1 L521.7,988.6 L523.9,993.1 L526.0,997.6 L528.2,1002.1 L530.4,1006.7 L532.6,1011.2 L534.8,1015.7 L536.9,1020.2 L539.1,1024.7 L541.3,1029.2 L543.5,1033.7 L545.7,1038.2 L547.9,1042.7 L550.1,1047.2 L552.3,1051.7 L554.5,1056.2 L556.7,1060.7 L558.9,1065.2 L561.1,1069.7 L563.3,1074.2 L565.5,1078.7 L567.8,1083.2 L570.0,1087.7 L572.2,1092.2 L574.5,1096.6 L576.7,1101.1 L578.9,1105.6 L581.2,1110.1 L583.4,1114.5 L585.7,1119.0 L587.9,1123.5 L590.2,1127.9 L592.5,1132.4 L594.7,1136.8 L597.0,1141.3 L599.3,1145.7 L601.6,1150.2 L603.9,1154.6 L606.1,1159.0 L608.4,1163.5 L610.7,1167.9 L613.1,1172.3 L615.4,1176.7 L617.7,1181.1 L620.0,1185.6 L622.4,1190.0 L624.7,1194.4 L627.1,1198.8 L629.4,1203.1 L631.8,1207.5 L634.2,1211.9 L636.5,1216.3 L638.9,1220.7 L641.3,1225.0 L643.7,1229.4 L646.1,1233.8 L648.6,1238.1 L651.0,1242.5 L653.4,1246.8 L655.9,1251.1 L658.4,1255.5 L660.8,1259.8 L663.3,1264.1 L665.8,1268.4 L668.3,1272.8 L670.8,1277.1 L673.4,1281.4 L675.9,1285.7 L678.5,1290.0 L681.0,1294.2 L683.6,1298.5 L686.2,1302.8 L688.8,1307.1 L691.4,1311.3 L694.0,1315.6 L696.7,1319.8 L699.3,1324.1 L702.0,1328.3 L704.7,1332.5 L707.3,1336.8 L710.0,1341.0 L712.8,1345.2 L715.5,1349.4 L718.2,1353.6 L721.0,1357.8 L723.7,1362.0 L726.5,1366.1 L729.2,1370.3 L732.0,1374.5 L734.8,1378.6 L737.6,1382.8 L740.5,1386.9 L743.3,1391.1 L746.1,1395.2 L749.0,1399.3 L751.8,1403.4 L754.7,1407.5 L757.6,1411.6 L760.5,1415.7 L763.4,1419.8 L766.3,1423.9 L769.2,1428.0 L772.1,1432.0 L775.1,1436.1 L778.0,1440.1 L781.0,1444.2 L783.9,1448.2 L786.9,1452.2 L789.9,1456.2 L792.9,1460.2 L795.9,1464.2 L798.9,1468.2 L801.9,1472.2 L804.9,1476.2 L807.9,1480.1 L811.0,1484.1 L814.0,1488.0 L817.1,1492.0 L820.2,1495.9 L823.3,1499.8 L826.4,1503.7 L829.5,1507.6 L832.6,1511.5 L835.7,1515.4 L838.8,1519.3 L842.0,1523.2 L845.2,1527.0 L848.3,1530.9 L851.5,1534.7 L854.7,1538.5 L857.9,1542.4 L861.1,1546.2 L864.3,1550.0 L867.6,1553.8 L870.8,1557.6 L874.1,1561.4 L877.3,1565.2 L880.6,1568.9 L883.9,1572.7 L887.2,1576.4 L890.6,1580.2 L893.9,1583.9 L897.2,1587.6 L900.6,1591.4 L904.0,1595.1 L907.3,1598.8 L910.7,1602.4 L914.1,1606.1 L917.6,1609.8 L921.0,1613.4 L924.4,1617.1 L927.9,1620.7 L931.4,1624.3 L934.9,1627.9 L938.4,1631.5 L941.9,1635.1 L945.4,1638.6 L949.0,1642.2 L952.5,1645.7 L956.1,1649.2 L959.7,1652.8 L963.3,1656.2 L966.9,1659.7 L970.5,1663.2 L974.2,1666.6 L977.8,1670.0 L981.5,1673.5 L985.2,1676.8 L988.9,1680.2 L992.6,1683.6 L996.3,1686.9 L1000.1,1690.2 L1003.9,1693.5 L1007.6,1696.8 L1011.4,1700.1 L1015.3,1703.3 L1019.1,1706.6 L1022.9,1709.8 L1026.8,1712.9 L1030.7,1716.1 L1034.6,1719.3 L1038.5,1722.4 L1042.4,1725.5 L1046.3,1728.6 L1050.2,1731.7 L1054.2,1734.7 L1058.2,1737.8 L1062.2,1740.8 L1066.2,1743.8 L1070.2,1746.8 L1074.2,1749.8 L1078.2,1752.7 L1082.3,1755.6 L1086.4,1758.5 L1090.4,1761.4 L1094.5,1764.3 L1098.6,1767.2 L1102.7,1770.0 L1106.9,1772.8 L1111.0,1775.6 L1115.1,1778.4 L1119.3,1781.2 L1123.5,1783.9 L1127.7,1786.6 L1131.8,1789.3 L1136.1,1792.0 L1140.3,1794.7 L1144.5,1797.3 L1148.8,1799.9 L1153.1,1802.4 L1157.4,1805.0 L1161.7,1807.5 L1166.0,1809.9 L1170.4,1812.3 L1174.8,1814.7 L1179.2,1817.0 L1183.6,1819.2 L1188.0,1821.4 L1192.5,1823.6 L1197.0,1825.7 L1201.6,1827.7 L1206.2,1829.7 L1210.8,1831.6 L1215.4,1833.5 L1220.0,1835.3 L1224.7,1837.0 L1229.5,1838.7 L1234.2,1840.3 L1239.0,1841.9 L1243.7,1843.4 L1248.6,1844.8 L1253.4,1846.2 L1258.2,1847.6 L1263.1,1848.9 L1267.9,1850.2 L1272.8,1851.4 L1277.7,1852.6 L1282.5,1853.7 L1287.4,1854.8 L1292.3,1855.8 L1297.2,1856.7 L1302.1,1857.4 L1307.1,1858.1 L1312.0,1858.7 L1316.9,1859.1 L1321.9,1859.3 L1326.8,1859.4 L1331.8,1859.3 L1336.8,1859.1 L1341.7,1858.7 L1346.7,1858.1 L1351.6,1857.3 L1356.5,1856.3 L1361.4,1855.2 L1366.2,1853.9 L1371.0,1852.5 L1375.7,1850.8 L1380.4,1849.0 L1385.0,1847.0 L1389.6,1844.8 L1394.0,1842.5 L1398.4,1840.0 L1402.7,1837.3 L1406.9,1834.5 L1410.9,1831.5 L1414.8,1828.4 L1418.6,1825.1 L1422.3,1821.7 L1425.8,1818.2 L1429.2,1814.5 L1432.4,1810.7 L1435.5,1806.8 L1438.4,1802.8 L1441.2,1798.8 L1443.9,1794.6 L1446.6,1790.3 L1449.1,1786.0 L1451.6,1781.7 L1454.0,1777.3 L1456.3,1772.8 L1458.6,1768.4 L1460.9,1763.9 L1463.1,1759.4 L1465.3,1754.9 L1467.4,1750.4 L1469.6,1745.8 L1471.6,1741.3 L1473.7,1736.7 L1475.7,1732.1 L1477.7,1727.5 L1479.6,1722.9 L1481.5,1718.2 L1483.4,1713.6 L1485.2,1708.9 L1487.0,1704.3 L1488.8,1699.6 L1490.5,1694.9 L1492.2,1690.2 L1493.9,1685.5 L1495.5,1680.7 L1497.1,1676.0 L1498.7,1671.3 L1500.2,1666.5 L1501.8,1661.7 L1503.3,1657.0 L1504.7,1652.2 L1506.2,1647.4 L1507.6,1642.6 L1509.0,1637.8 L1510.3,1632.9 L1511.7,1628.1 L1513.0,1623.3 L1514.3,1618.5 L1515.6,1613.6 L1516.9,1608.8 L1518.1,1603.9 L1519.3,1599.1 L1520.5,1594.2 L1521.7,1589.3 L1522.9,1584.5 L1524.1,1579.6 L1525.2,1574.7 L1526.3,1569.8 L1527.5,1564.9 L1528.6,1560.0 L1529.7,1555.2 L1530.8,1550.3 L1531.8,1545.4 L1532.9,1540.5 L1533.9,1535.6 L1535.0,1530.7 L1536.0,1525.8 L1537.1,1520.9 L1538.1,1516.0 L1539.1,1511.1 L1540.1,1506.2 L1541.1,1501.3 L1542.1,1496.4 L1543.1,1491.5 L1544.1,1486.6 L1545.1,1481.7 L1546.0,1476.8 L1547.0,1471.9 L1547.9,1467.0 L1548.9,1462.1 L1549.8,1457.2 L1550.8,1452.3 L1551.7,1447.4 L1552.6,1442.4 L1553.5,1437.5 L1554.4,1432.6 L1555.3,1427.7 L1556.2,1422.8 L1557.1,1417.9 L1558.0,1413.0 L1558.9,1408.1 L1559.8,1403.1 L1560.6,1398.2 L1561.5,1393.3 L1562.3,1388.4 L1563.2,1383.5 L1564.0,1378.5 L1564.9,1373.6 L1565.7,1368.7 L1566.5,1363.8 L1567.4,1358.9 L1568.2,1353.9 L1569.0,1349.0 L1569.8,1344.1 L1570.6,1339.1 L1571.4,1334.2 L1572.2,1329.3 L1573.0,1324.3 L1573.8,1319.4 L1574.6,1314.5 L1575.4,1309.5 L1576.2,1304.6 L1576.9,1299.7 L1577.7,1294.7 L1578.5,1289.8 L1579.2,1284.8 L1580.0,1279.9 L1580.7,1275.0 L1581.5,1270.0 L1582.2,1265.1 L1583.0,1260.1 L1583.7,1255.2 L1584.5,1250.2 L1585.2,1245.3 L1585.9,1240.3 L1586.7,1235.4 L1587.4,1230.4 L1588.1,1225.5 L1588.9,1220.5 L1589.6,1215.6 L1590.3,1210.6 L1591.0,1205.7 L1591.7,1200.7 L1592.5,1195.8 L1593.2,1190.8 L1593.9,1185.9 L1594.6,1180.9 L1595.3,1175.9 L1596.0,1171.0 L1596.7,1166.0 L1597.4,1161.1 L1598.1,1156.1 L1598.8,1151.1 L1599.5,1146.2 L1600.2,1141.2 L1600.9,1136.3 L1601.6,1131.3 L1602.3,1126.3 L1603.0,1121.4 L1603.7,1116.4 L1604.4,1111.5 L1605.1,1106.5 L1605.8,1101.5 L1606.5,1096.6 L1607.2,1091.6 L1607.9,1086.7 L1608.6,1081.7 L1609.3,1076.7 L1610.0,1071.8 L1610.7,1066.8 L1611.4,1061.9 L1612.1,1056.9 L1612.9,1051.9 L1613.6,1047.0 L1614.3,1042.0 L1615.0,1037.1 L1615.7,1032.1 L1616.4,1027.2 L1617.1,1022.2 L1617.9,1017.3 L1618.6,1012.3 L1619.3,1007.4 L1620.1,1002.4 L1620.8,997.5 L1621.5,992.5 L1622.3,987.6 L1623.0,982.6 L1623.8,977.7 L1624.5,972.8 L1625.3,967.8 L1626.0,962.9 L1626.8,957.9 L1627.5,953.0 L1628.3,948.1 L1629.1,943.2 L1629.9,938.2 L1630.6,933.3 L1631.4,928.4 L1632.2,923.5 L1633.0,918.5 L1633.8,913.6 L1634.6,908.7 L1635.4,903.8 L1636.2,898.9 L1637.1,893.9 L1637.9,889.0 L1638.7,884.1 L1639.5,879.2 L1640.4,874.3 L1641.2,869.4 L1642.1,864.5 L1642.9,859.5 L1643.8,854.6 L1644.6,849.7 L1645.5,844.8 L1646.4,839.9 L1647.2,835.0 L1648.1,830.1 L1649.0,825.2 L1649.9,820.2 L1650.8,815.3 L1651.7,810.4 L1652.6,805.5 L1653.5,800.6 L1654.4,795.7 L1655.4,790.8 L1656.3,785.9 L1657.2,780.9 L1658.2,776.0 L1659.1,771.1 L1660.1,766.2 L1661.0,761.3 L1662.0,756.4 L1663.0,751.4 L1663.9,746.5 L1664.9,741.6 L1665.9,736.7 L1666.9,731.8 L1668.0,726.9 L1669.0,721.9 L1670.0,717.0 L1671.1,712.1 L1672.1,707.2 L1673.2,702.3 L1674.3,697.4 L1675.4,692.5 L1676.5,687.6 L1677.6,682.7 L1678.7,677.9 L1679.9,673.0 L1681.0,668.1 L1682.2,663.2 L1683.4,658.4 L1684.6,653.5 L1685.8,648.7 L1687.0,643.8 L1688.3,639.0 L1689.5,634.1 L1690.8,629.3 L1692.1,624.5 L1693.4,619.7 L1694.8,614.9 L1696.1,610.1 L1697.5,605.3 L1698.9,600.5 L1700.3,595.8 L1701.8,591.0 L1703.2,586.3 L1704.7,581.5 L1706.2,576.8 L1707.7,572.1 L1709.3,567.4 L1710.9,562.7 L1712.5,558.0 L1714.2,553.3 L1715.8,548.6 L1717.5,543.9 L1719.3,539.3 L1721.1,534.6 L1722.9,530.0 L1724.7,525.4 L1726.6,520.7 L1728.5,516.1 L1730.5,511.5 L1732.5,506.9 L1734.6,502.4 L1736.6,497.8 L1738.8,493.2 L1741.0,488.7 L1743.3,484.2 L1745.6,479.8 L1748.0,475.4 L1750.5,471.0 L1753.1,466.8 L1755.8,462.5 L1758.6,458.4 L1761.5,454.4 L1764.5,450.4 L1767.6,446.5 L1770.8,442.8 L1774.2,439.1 L1777.6,435.5 L1781.2,432.1 L1784.9,428.7 L1788.7,425.5 L1792.6,422.4 L1796.6,419.4 L1800.7,416.6 L1804.9,413.9 L1809.3,411.4 L1813.7,408.9 L1818.2,406.6 L1822.8,404.5 L1827.5,402.5 L1832.2,400.6 L1837.0,398.8 L1841.8,397.2 L1846.6,395.7 L1851.4,394.4 L1856.3,393.1 L1861.2,392.0 L1866.1,391.1 L1871.0,390.2 L1875.9,389.4 L1880.8,388.7 L1885.8,388.0 L1890.7,387.4 L1895.6,386.8 L1900.6,386.3 L1905.5,385.8 L1910.4,385.2 L1915.4,384.7 L1920.3,384.2 L1921.0,384.1"/>
<path stroke="#ff00ff" d="M337.0,453.6 L339.2,458.1 L341.5,462.5 L343.7,467.0 L345.9,471.4 L348.2,475.9 L350.4,480.4 L352.6,484.9 L354.8,489.3 L357.0,493.8 L359.2,498.3 L361.4,502.7 L363.6,507.2 L365.7,511.7 L367.9,516.2 L370.1,520.7 L372.2,525.2 L374.4,529.7 L376.6,534.1 L378.7,538.6 L380.9,543.1 L383.0,547.6 L385.2,552.1 L387.3,556.6 L389.4,561.1 L391.6,565.6 L393.7,570.2 L395.8,574.7 L398.0,579.2 L400.1,583.7 L402.2,588.2 L404.3,592.7 L406.5,597.2 L408.6,601.8 L410.7,606.3 L412.8,610.8 L414.9,615.4 L417.0,619.9 L419.2,624.4 L421.3,629.0 L423.4,633.5 L425.5,638.0 L427.6,642.6 L429.7,647.1 L431.9,651.7 L434.0,656.2 L436.1,660.8 L438.2,665.3 L440.3,669.9 L442.4,674.4 L444.5,679.0 L446.7,683.5 L448.8,688.1 L450.9,692.6 L453.0,697.2 L455.1,701.8 L457.2,706.3 L459.3,710.9 L461.4,715.4 L463.5,720.0 L465.7,724.6 L467.8,729.1 L469.9,733.7 L472.0,738.2 L474.1,742.8 L476.2,747.4 L478.3,751.9 L480.4,756.5 L482.5,761.0 L484.6,765.6 L486.8,770.1 L488.9,774.7 L491.0,779.2 L493.1,783.8 L495.2,788.4 L497.3,792.9 L499.4,797.4 L501.5,802.0 L503.6,806.5 L505.7,811.1 L507.8,815.6 L509.9,820.2 L512.0,824.7 L514.1,829.2 L516.2,833.8 L518.3,838.3 L520.4,842.8 L522.6,847.4 L524.7,851.9 L526.8,856.4 L528.9,860.9 L531.0,865.5 L533.1,870.0 L535.2,874.5 L537.3,879.0 L539.5,883.5 L541.6,888.0 L543.7,892.6 L545.8,897.1 L548.0,901.6 L550.1,906.1 L552.2,910.6 L554.4,915.1 L556.5,919.6 L558.7,924.1 L560.8,928.6 L563.0,933.1 L565.1,937.6 L567.3,942.1 L569.4,946.6 L571.6,951.0 L573.8,955.5 L575.9,960.0 L578.1,964.5 L580.3,969.0 L582.5,973.5 L584.7,978.0 L586.9,982.4 L589.1,986.9 L591.3,991.4 L593.5,995.9 L595.7,1000.3 L598.0,1004.8 L600.2,1009.3 L602.4,1013.7 L604.7,1018.2 L606.9,1022.7 L609.2,1027.1 L611.4,1031.6 L613.7,1036.1 L615.9,1040.5 L618.2,1045.0 L620.5,1049.4 L622.8,1053.9 L625.0,1058.3 L627.3,1062.8 L629.6,1067.2 L631.9,1071.7 L634.2,1076.1 L636.5,1080.6 L638.8,1085.0 L641.1,1089.4 L643.4,1093.9 L645.8,1098.3 L648.1,1102.7 L650.4,1107.2 L652.8,1111.6 L655.1,1116.0 L657.4,1120.5 L659.8,1124.9 L662.1,1129.3 L664.5,1133.7 L666.8,1138.1 L669.2,1142.5 L671.6,1147.0 L673.9,1151.4 L676.3,1155.8 L678.7,1160.2 L681.1,1164.6 L683.5,1169.0 L685.9,1173.4 L688.3,1177.8 L690.7,1182.2 L693.1,1186.6 L695.5,1190.9 L697.9,1195.3 L700.4,1199.7 L702.8,1204.1 L705.2,1208.4 L707.7,1212.8 L710.2,1217.2 L712.6,1221.5 L715.1,1225.9 L717.6,1230.2 L720.1,1234.6 L722.6,1238.9 L725.1,1243.2 L727.6,1247.5 L730.2,1251.8 L732.7,1256.2 L735.3,1260.5 L737.8,1264.7 L740.4,1269.0 L743.0,1273.3 L745.6,1277.6 L748.2,1281.9 L750.8,1286.1 L753.4,1290.4 L756.1,1294.6 L758.8,1298.8 L761.4,1303.1 L764.1,1307.3 L766.8,1311.5 L769.5,1315.7 L772.2,1319.9 L775.0,1324.1 L777.7,1328.3 L780.5,1332.4 L783.2,1336.6 L786.0,1340.8 L788.8,1344.9 L791.6,1349.0 L794.4,1353.2 L797.2,1357.3 L800.1,1361.4 L802.9,1365.5 L805.8,1369.6 L808.7,1373.7 L811.5,1377.8 L814.4,1381.9 L817.3,1386.0 L820.2,1390.0 L823.2,1394.1 L826.1,1398.1 L829.0,1402.2 L832.0,1406.2 L835.0,1410.2 L837.9,1414.2 L840.9,1418.2 L843.9,1422.2 L846.9,1426.2 L849.9,1430.2 L852.9,1434.2 L855.9,1438.2 L859.0,1442.1 L862.0,1446.1 L865.1,1450.0 L868.1,1454.0 L871.2,1457.9 L874.3,1461.8 L877.4,1465.8 L880.5,1469.7 L883.6,1473.6 L886.7,1477.5 L889.9,1481.4 L893.0,1485.2 L896.2,1489.1 L899.3,1492.9 L902.5,1496.8 L905.7,1500.6 L908.9,1504.5 L912.1,1508.3 L915.3,1512.1 L918.6,1515.9 L921.8,1519.7 L925.1,1523.4 L928.3,1527.2 L931.6,1531.0 L934.9,1534.7 L938.2,1538.4 L941.6,1542.1 L944.9,1545.8 L948.3,1549.5 L951.6,1553.2 L955.0,1556.9 L958.4,1560.6 L961.8,1564.2 L965.2,1567.8 L968.7,1571.5 L972.1,1575.1 L975.6,1578.7 L979.1,1582.2 L982.6,1585.8 L986.1,1589.4 L989.6,1592.9 L993.1,1596.4 L996.7,1600.0 L1000.3,1603.5 L1003.8,1606.9 L1007.4,1610.4 L1011.1,1613.9 L1014.7,1617.3 L1018.3,1620.8 L1022.0,1624.2 L1025.6,1627.6 L1029.3,1631.0 L1033.0,1634.3 L1036.7,1637.7 L1040.5,1641.0 L1044.2,1644.4 L1048.0,1647.7 L1051.7,1651.0 L1055.5,1654.3 L1059.3,1657.5 L1063.2,1660.8 L1067.0,1664.0 L1070.8,1667.2 L1074.7,1670.4 L1078.6,1673.6 L1082.5,1676.8 L1086.4,1680.0 L1090.3,1683.1 L1094.2,1686.2 L1098.2,1689.3 L1102.2,1692.3 L1106.2,1695.4 L1110.2,1698.4 L1114.3,1701.3 L1118.3,1704.2 L1122.4,1707.1 L1126.5,1710.0 L1130.7,1712.8 L1134.8,1715.6 L1139.0,1718.3 L1143.3,1721.0 L1147.5,1723.7 L1151.8,1726.3 L1156.1,1728.8 L1160.5,1731.3 L1164.8,1733.8 L1169.3,1736.2 L1173.7,1738.5 L1178.2,1740.8 L1182.7,1743.1 L1187.2,1745.2 L1191.8,1747.4 L1196.3,1749.5 L1200.9,1751.5 L1205.5,1753.5 L1210.1,1755.5 L1214.8,1757.4 L1219.4,1759.2 L1224.1,1761.0 L1228.7,1762.8 L1233.4,1764.6 L1238.0,1766.3 L1242.7,1767.9 L1247.3,1769.6 L1252.0,1771.1 L1256.6,1772.6 L1261.3,1774.0 L1266.1,1775.4 L1270.8,1776.6 L1275.6,1777.7 L1280.4,1778.8 L1285.3,1779.7 L1290.3,1780.4 L1295.3,1781.0 L1300.3,1781.5 L1305.4,1781.8 L1310.5,1781.9 L1315.6,1781.9 L1320.7,1781.8 L1325.8,1781.4 L1330.8,1780.9 L1335.9,1780.3 L1340.8,1779.4 L1345.7,1778.4 L1350.5,1777.2 L1355.3,1775.8 L1359.9,1774.2 L1364.5,1772.4 L1369.0,1770.5 L1373.4,1768.3 L1377.7,1766.0 L1381.9,1763.5 L1386.0,1760.8 L1390.0,1757.9 L1393.9,1754.9 L1397.7,1751.6 L1401.3,1748.2 L1404.9,1744.7 L1408.3,1741.0 L1411.7,1737.1 L1414.9,1733.2 L1418.0,1729.1 L1421.0,1725.0 L1423.9,1720.8 L1426.7,1716.6 L1429.3,1712.2 L1431.9,1707.9 L1434.4,1703.5 L1436.7,1699.1 L1439.0,1694.6 L1441.2,1690.1 L1443.3,1685.6 L1445.4,1681.1 L1447.4,1676.5 L1449.3,1671.9 L1451.2,1667.3 L1453.1,1662.7 L1454.9,1658.0 L1456.7,1653.4 L1458.5,1648.7 L1460.2,1644.0 L1461.9,1639.3 L1463.5,1634.6 L1465.1,1629.9 L1466.7,1625.2 L1468.3,1620.4 L1469.8,1615.7 L1471.3,1610.9 L1472.8,1606.1 L1474.2,1601.3 L1475.7,1596.5 L1477.1,1591.7 L1478.4,1586.9 L1479.8,1582.1 L1481.1,1577.3 L1482.4,1572.5 L1483.7,1567.6 L1485.0,1562.8 L1486.2,1557.9 L1487.4,1553.1 L1488.6,1548.2 L1489.8,1543.4 L1491.0,1538.5 L1492.2,1533.7 L1493.3,1528.8 L1494.4,1523.9 L1495.6,1519.1 L1496.7,1514.2 L1497.7,1509.3 L1498.8,1504.4 L1499.9,1499.6 L1500.9,1494.7 L1502.0,1489.8 L1503.0,1484.9 L1504.0,1480.0 L1505.0,1475.1 L1506.0,1470.3 L1507.0,1465.4 L1508.0,1460.5 L1508.9,1455.6 L1509.9,1450.7 L1510.8,1445.8 L1511.8,1440.9 L1512.7,1436.0 L1513.6,1431.1 L1514.6,1426.2 L1515.5,1421.2 L1516.4,1416.3 L1517.3,1411.4 L1518.2,1406.5 L1519.0,1401.6 L1519.9,1396.7 L1520.8,1391.8 L1521.7,1386.9 L1522.5,1381.9 L1523.4,1377.0 L1524.3,1372.1 L1525.1,1367.2 L1526.0,1362.2 L1526.9,1357.3 L1527.7,1352.4 L1528.6,1347.5 L1529.4,1342.6 L1530.3,1337.6 L1531.1,1332.7 L1531.9,1327.8 L1532.8,1322.8 L1533.6,1317.9 L1534.5,1313.0 L1535.3,1308.0 L1536.1,1303.1 L1536.9,1298.2 L1537.8,1293.3 L1538.6,1288.3 L1539.4,1283.4 L1540.2,1278.4 L1541.0,1273.5 L1541.8,1268.6 L1542.6,1263.6 L1543.4,1258.7 L1544.2,1253.8 L1545.0,1248.8 L1545.8,1243.9 L1546.5,1238.9 L1547.3,1234.0 L1548.1,1229.1 L1548.9,1224.1 L1549.6,1219.2 L1550.4,1214.2 L1551.1,1209.3 L1551.9,1204.4 L1552.6,1199.4 L1553.4,1194.5 L1554.1,1189.5 L1554.8,1184.6 L1555.6,1179.7 L1556.3,1174.7 L1557.0,1169.8 L1557.7,1164.8 L1558.4,1159.9 L1559.1,1154.9 L1559.8,1150.0 L1560.5,1145.0 L1561.2,1140.1 L1561.9,1135.2 L1562.6,1130.2 L1563.3,1125.3 L1564.0,1120.3 L1564.7,1115.4 L1565.3,1110.4 L1566.0,1105.5 L1566.7,1100.5 L1567.4,1095.6 L1568.1,1090.6 L1568.7,1085.7 L1569.4,1080.7 L1570.1,1075.8 L1570.8,1070.8 L1571.4,1065.9 L1572.1,1061.0 L1572.8,1056.0 L1573.5,1051.1 L1574.2,1046.1 L1574.9,1041.2 L1575.5,1036.2 L1576.2,1031.3 L1576.9,1026.3 L1577.6,1021.4 L1578.3,1016.4 L1579.0,1011.5 L1579.7,1006.5 L1580.4,1001.6 L1581.1,996.6 L1581.9,991.7 L1582.6,986.7 L1583.3,981.8 L1584.0,976.8 L1584.8,971.9 L1585.5,966.9 L1586.3,962.0 L1587.0,957.0 L1587.8,952.1 L1588.5,947.1 L1589.3,942.2 L1590.1,937.2 L1590.8,932.3 L1591.6,927.3 L1592.4,922.4 L1593.1,917.4 L1593.9,912.5 L1594.7,907.6 L1595.5,902.6 L1596.2,897.7 L1597.0,892.7 L1597.8,887.8 L1598.6,882.8 L1599.4,877.9 L1600.2,872.9 L1601.0,868.0 L1601.7,863.0 L1602.5,858.1 L1603.3,853.1 L1604.1,848.2 L1604.9,843.2 L1605.7,838.3 L1606.5,833.3 L1607.3,828.4 L1608.0,823.5 L1608.8,818.5 L1609.6,813.6 L1610.4,808.6 L1611.1,803.7 L1611.9,798.7 L1612.7,793.8 L1613.5,788.8 L1614.2,783.9 L1615.0,779.0 L1615.7,774.0 L1616.5,769.1 L1617.3,764.1 L1618.0,759.2 L1618.8,754.2 L1619.5,749.3 L1620.3,744.4 L1621.0,739.4 L1621.8,734.5 L1622.5,729.5 L1623.3,724.6 L1624.1,719.7 L1624.8,714.7 L1625.6,709.8 L1626.3,704.8 L1627.1,699.9 L1627.8,695.0 L1628.6,690.0 L1629.4,685.1 L1630.1,680.1 L1630.9,675.2 L1631.7,670.3 L1632.4,665.3 L1633.2,660.4 L1634.0,655.5 L1634.8,650.5 L1635.5,645.6 L1636.3,640.6 L1637.1,635.7 L1637.9,630.8 L1638.7,625.8 L1639.5,620.9 L1640.3,616.0 L1641.1,611.0 L1641.9,606.1 L1642.8,601.1 L1643.6,596.2 L1644.4,591.3 L1645.3,586.3 L1646.1,581.4 L1647.0,576.5 L1647.8,571.5 L1648.7,566.6 L1649.6,561.7 L1650.5,556.7 L1651.4,551.8 L1652.3,546.9 L1653.2,542.0 L1654.1,537.0 L1655.1,532.1 L1656.0,527.2 L1657.0,522.3 L1658.0,517.4 L1658.9,512.5 L1659.9,507.5 L1661.0,502.6 L1662.0,497.7 L1663.0,492.8 L1664.1,487.9 L1665.2,483.1 L1666.3,478.2 L1667.4,473.3 L1668.5,468.4 L1669.6,463.5 L1670.8,458.7 L1672.0,453.8 L1673.2,448.9 L1674.4,444.1 L1675.6,439.2 L1676.9,434.4 L1678.2,429.6 L1679.5,424.7 L1680.8,419.9 L1682.2,415.1 L1683.6,410.3 L1685.1,405.5 L1686.6,400.8 L1688.2,396.0 L1689.8,391.3 L1691.5,386.6 L1693.2,382.0 L1695.0,377.3 L1696.9,372.7 L1698.9,368.1 L1701.0,363.6 L1703.1,359.1 L1705.3,354.6 L1707.6,350.1 L1710.0,345.7 L1712.5,341.3 L1715.1,337.0 L1717.7,332.8 L1720.4,328.6 L1723.2,324.4 L1726.1,320.3 L1729.1,316.3 L1732.1,312.3 L1735.3,308.4 L1738.5,304.6 L1741.8,300.8 L1745.1,297.2 L1748.6,293.6 L1752.1,290.1 L1755.8,286.6 L1759.5,283.3 L1763.3,280.1 L1767.2,276.9 L1771.1,273.9 L1775.2,271.0 L1779.4,268.1 L1783.6,265.4 L1787.9,262.9 L1792.3,260.4 L1796.8,258.1 L1801.3,256.0 L1805.9,254.0 L1810.5,252.2 L1815.2,250.5 L1819.9,249.0 L1824.7,247.7 L1829.5,246.5 L1834.4,245.5 L1839.2,244.5 L1844.1,243.7 L1849.1,242.9 L1854.0,242.2 L1858.9,241.6 L1863.8,241.0 L1868.7,240.4 L1873.6,239.9 L1878.5,239.4 L1883.4,238.9 L1888.3,238.4 L1893.2,238.0 L1898.2,237.5 L1903.2,237.1 L1908.3,236.8 L1913.5,236.4 L1918.7,236.1 L1921.0,236.0"/>
</g>
<g fill="none" stroke-width="8.2" stroke-linecap="round">
<line x1="418" y1="148.8" x2="578.2" y2="148.8" stroke="#ff00ff"/>
<line x1="418" y1="245.9" x2="578.2" y2="245.9" stroke="#0000ff"/>
<line x1="418" y1="342.9" x2="578.2" y2="342.9" stroke="#ff0000"/>
<line x1="418" y1="440.0" x2="578.2" y2="440.0" stroke="#000000"/>
</g>
<text class="lg" stroke="#000" stroke-width="0.9"><tspan class="gm" style="font-size:65.74px" x="594.6" y="174.8" textLength="37.19" lengthAdjust="spacingAndGlyphs">γ</tspan><tspan x="640" y="178.3" style="font-size:1px"> </tspan><tspan x="642.7" y="178.3" textLength="43.05" lengthAdjust="spacingAndGlyphs">=</tspan><tspan x="695" y="172.7" style="font-size:1px"> </tspan><tspan x="699.9" y="172.7" textLength="38.88" lengthAdjust="spacingAndGlyphs">2</tspan></text>
<text class="lg" stroke="#000" stroke-width="0.9"><tspan class="gm" style="font-size:65.74px" x="594.6" y="271.9" textLength="37.19" lengthAdjust="spacingAndGlyphs">γ</tspan><tspan x="640" y="275.4" style="font-size:1px"> </tspan><tspan x="642.7" y="275.4" textLength="43.05" lengthAdjust="spacingAndGlyphs">=</tspan><tspan x="695" y="269.8" style="font-size:1px"> </tspan><tspan x="704.4" y="269.8" textLength="84.69" lengthAdjust="spacingAndGlyphs">1.5</tspan></text>
<text class="lg" stroke="#000" stroke-width="0.9"><tspan class="gm" style="font-size:65.74px" x="594.6" y="368.9" textLength="37.19" lengthAdjust="spacingAndGlyphs">γ</tspan><tspan x="640" y="372.4" style="font-size:1px"> </tspan><tspan x="642.7" y="372.4" textLength="43.05" lengthAdjust="spacingAndGlyphs">=</tspan><tspan x="695" y="366.8" style="font-size:1px"> </tspan><tspan x="703.0" y="366.8" textLength="36.00" lengthAdjust="spacingAndGlyphs">1</tspan></text>
<text class="lg" stroke="#000" stroke-width="0.9"><tspan class="gm" style="font-size:65.74px" x="594.6" y="466.0" textLength="37.19" lengthAdjust="spacingAndGlyphs">γ</tspan><tspan x="640" y="469.5" style="font-size:1px"> </tspan><tspan x="642.7" y="469.5" textLength="43.05" lengthAdjust="spacingAndGlyphs">=</tspan><tspan x="695" y="463.9" style="font-size:1px"> </tspan><tspan x="702.0" y="463.9" textLength="36.00" lengthAdjust="spacingAndGlyphs">0</tspan></text>
<text class="tk" stroke="#000" stroke-width="0.9" text-anchor="middle" transform="translate(423.9,2279.0) scale(0.975,1)">0.1</text>
<text class="tk" stroke="#000" stroke-width="0.9" text-anchor="middle" transform="translate(599.9,2279.0) scale(0.975,1)">0.2</text>
<text class="tk" stroke="#000" stroke-width="0.9" text-anchor="middle" transform="translate(775.9,2279.0) scale(0.975,1)">0.3</text>
<text class="tk" stroke="#000" stroke-width="0.9" text-anchor="middle" transform="translate(951.9,2279.0) scale(0.975,1)">0.4</text>
<text class="tk" stroke="#000" stroke-width="0.9" text-anchor="middle" transform="translate(1127.9,2279.0) scale(0.975,1)">0.5</text>
<text class="tk" stroke="#000" stroke-width="0.9" text-anchor="middle" transform="translate(1303.9,2279.0) scale(0.975,1)">0.6</text>
<text class="tk" stroke="#000" stroke-width="0.9" text-anchor="middle" transform="translate(1480.0,2279.0) scale(0.975,1)">0.7</text>
<text class="tk" stroke="#000" stroke-width="0.9" text-anchor="middle" transform="translate(1656.0,2279.0) scale(0.975,1)">0.8</text>
<text class="tk" stroke="#000" stroke-width="0.9" text-anchor="middle" transform="translate(1832.0,2279.0) scale(0.975,1)">0.9</text>
<text class="tk" stroke="#000" stroke-width="0.9" text-anchor="end" transform="translate(312.6,2080.1) scale(0.985,1)">1.0</text>
<text class="tk" stroke="#000" stroke-width="0.9" text-anchor="end" transform="translate(312.6,1793.1) scale(0.985,1)">1.2</text>
<text class="tk" stroke="#000" stroke-width="0.9" text-anchor="end" transform="translate(312.6,1506.1) scale(0.985,1)">1.4</text>
<text class="tk" stroke="#000" stroke-width="0.9" text-anchor="end" transform="translate(312.6,1219.1) scale(0.985,1)">1.6</text>
<text class="tk" stroke="#000" stroke-width="0.9" text-anchor="end" transform="translate(312.6,932.1) scale(0.985,1)">1.8</text>
<text class="tk" stroke="#000" stroke-width="0.9" text-anchor="end" transform="translate(312.6,645.1) scale(0.985,1)">2.0</text>
<text class="tk" stroke="#000" stroke-width="0.9" text-anchor="end" transform="translate(312.6,358.1) scale(0.985,1)">2.2</text>
<text class="tk" stroke="#000" stroke-width="0.9" text-anchor="end" transform="translate(312.6,71.1) scale(0.985,1)">2.4</text>
<text class="ax" stroke="#000" stroke-width="0.9" text-anchor="middle" transform="translate(1156,2413) scale(0.983,0.99)">a/b ratio</text>
<text class="ax" stroke="#000" stroke-width="0.9" transform="translate(86.0,1222.8) rotate(-90)">E<tspan font-size="58" dy="32.7">b</tspan></text>
<text class="an" stroke="#000" stroke-width="0.9" transform="translate(392.5,1919.4) scale(0.983,1)">-Shell radius b = 2a<tspan font-size="37" dy="20.5" dx="2">D</tspan><tspan font-size="38" dy="-51" dx="-30">*</tspan></text>
<text class="an" stroke="#000" stroke-width="0.9" transform="translate(393.0,2019.6) scale(0.983,1)">-NW height h = 20a<tspan font-size="37" dy="20.5" dx="2">D</tspan><tspan font-size="38" dy="-51" dx="-30">*</tspan></text>
<text class="an" stroke="#000" stroke-width="0.9" transform="translate(400.8,2105.8) scale(0.977,1)">-Donor at the core center</text>
</svg>
</body></html>
